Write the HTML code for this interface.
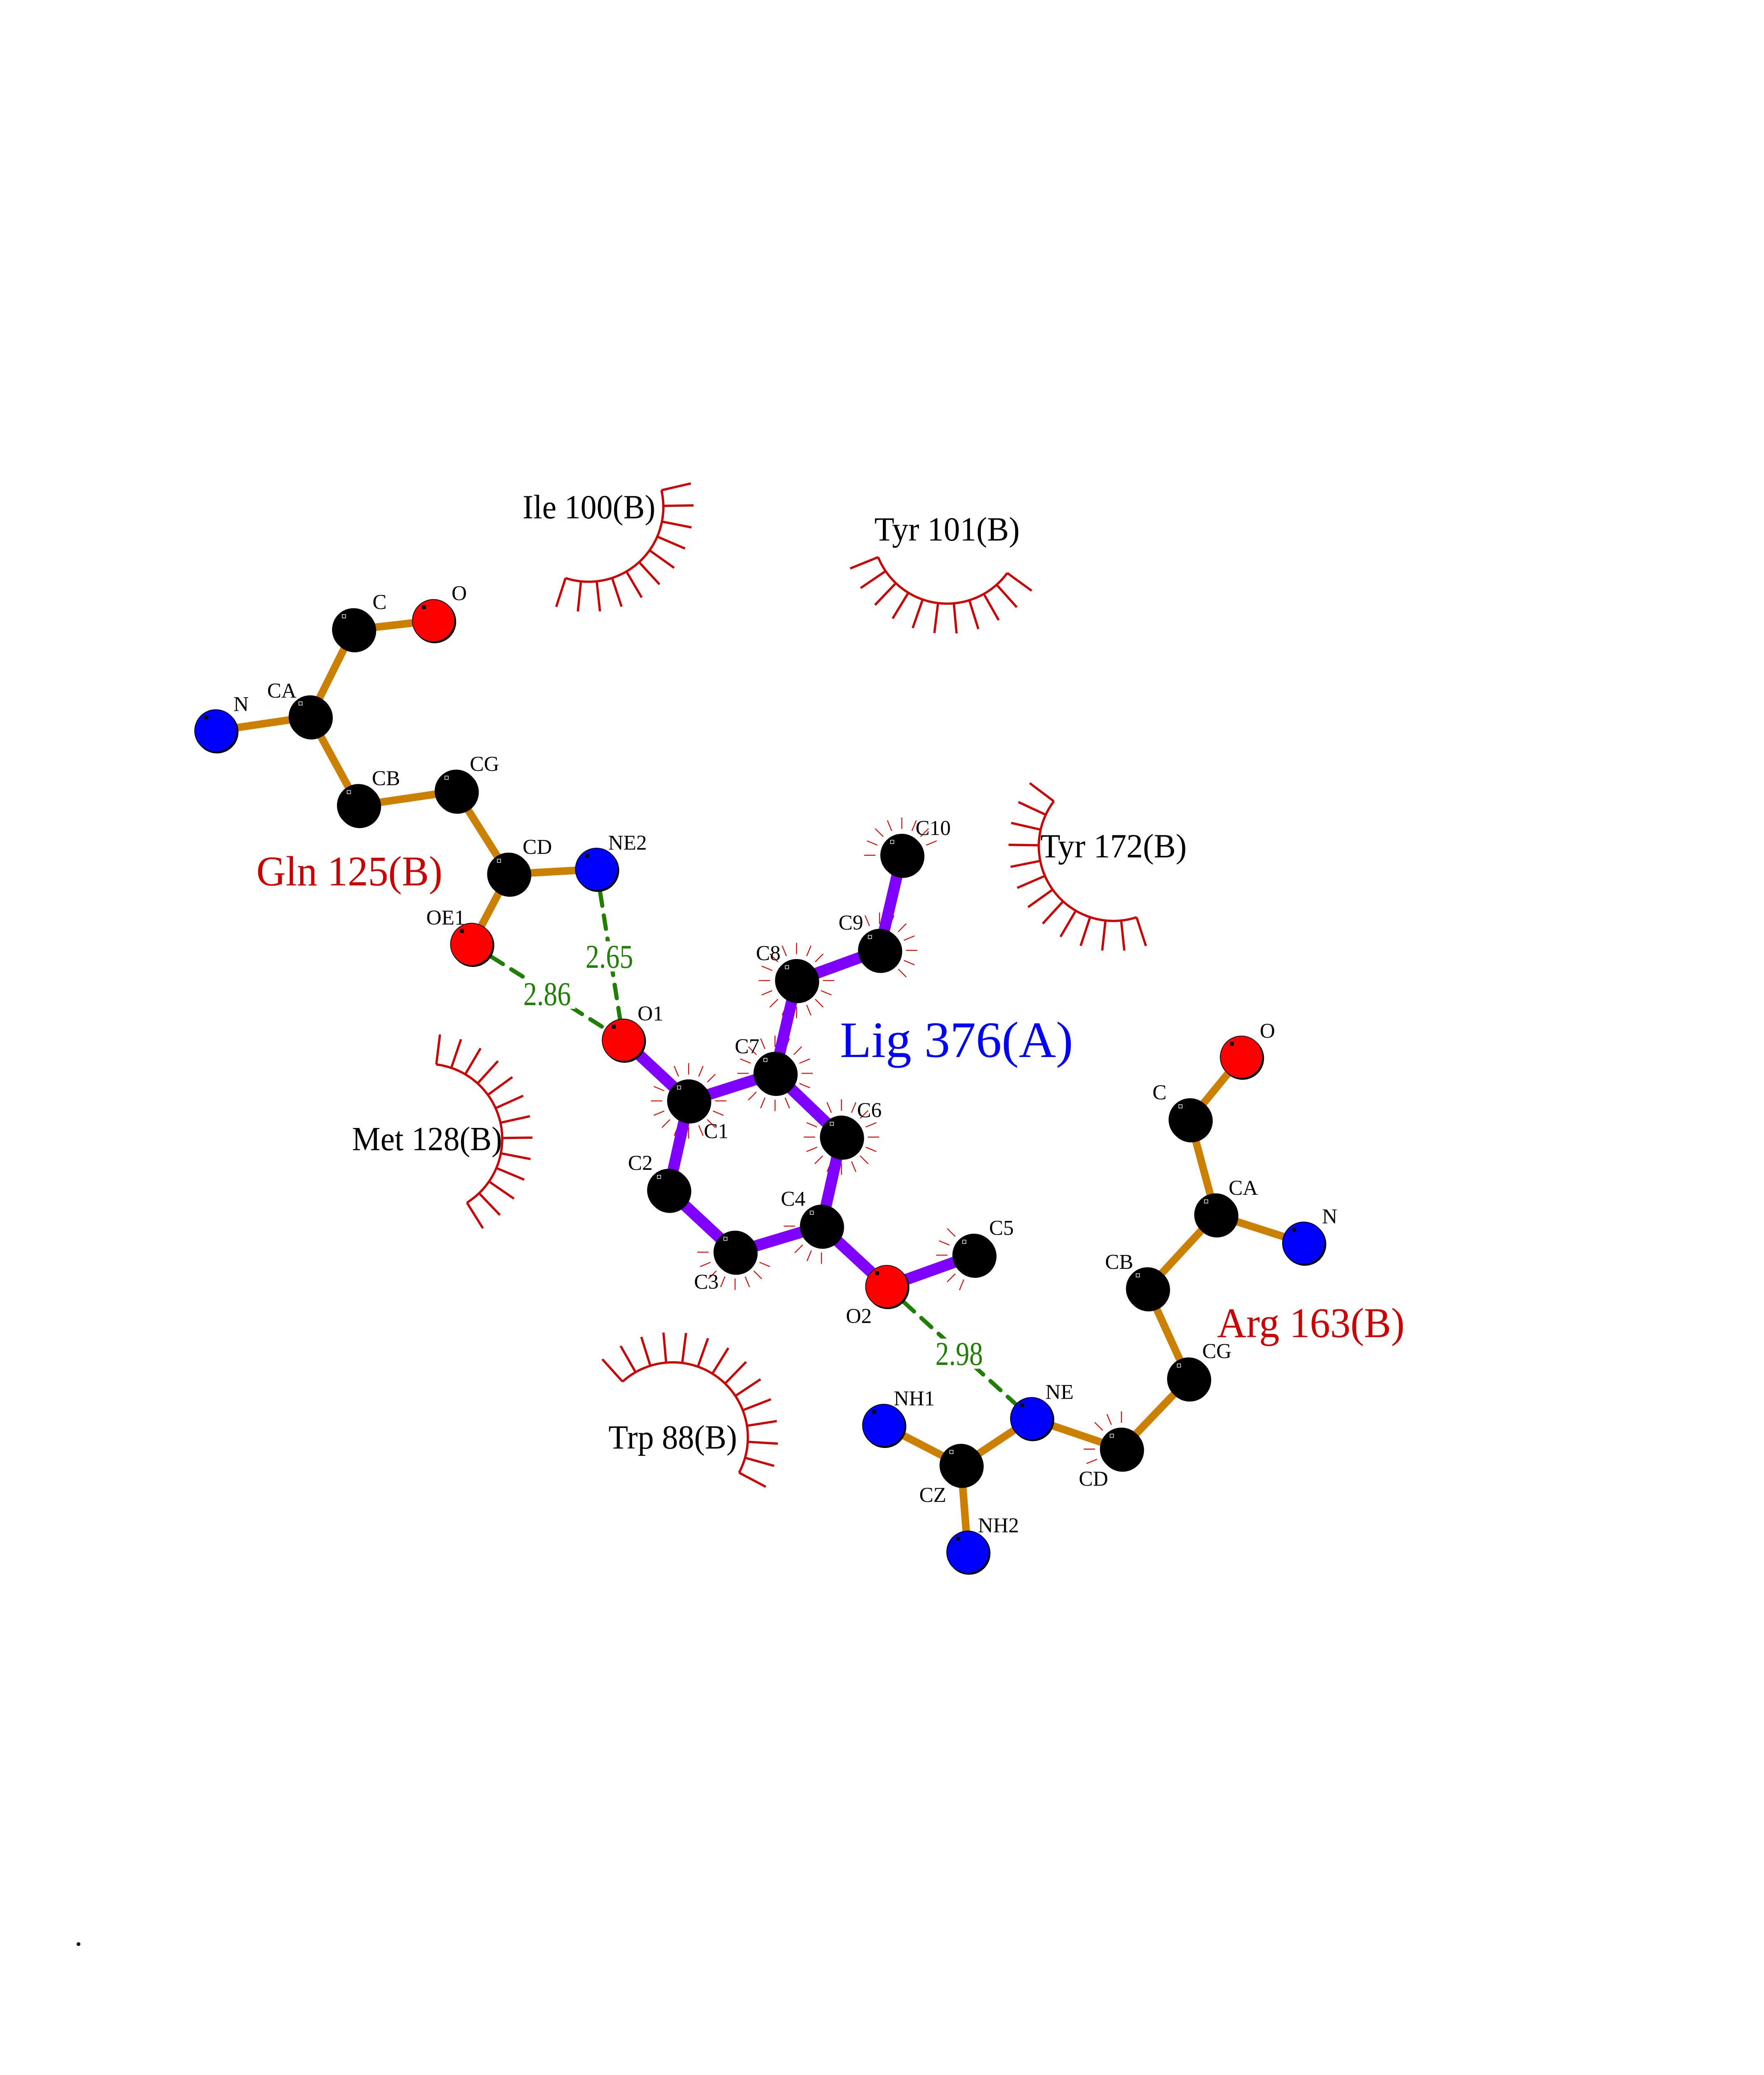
<!DOCTYPE html>
<html><head><meta charset="utf-8"><style>
html,body{margin:0;padding:0;background:#fff;width:100%;height:100%;overflow:hidden}
svg{position:fixed;left:0;top:0;display:block;height:100vh;width:calc(100vh * 0.7727273)}
</style></head>
<body>
<svg id="s" xmlns="http://www.w3.org/2000/svg" viewBox="0 0 4250 5500" preserveAspectRatio="none" font-family="Liberation Serif, serif">
<rect width="4250" height="5500" fill="#fff"/>
<g id="g"></g>
<circle cx="208" cy="5153" r="5" fill="#000"/>
</svg>
<script>
const NS="http://www.w3.org/2000/svg",g=document.getElementById('g');
function el(t,a,txt){const e=document.createElementNS(NS,t);for(const k in a)e.setAttribute(k,a[k]);if(txt)e.textContent=txt;g.appendChild(e);return e;}
const A={
 gN:[572,1937,'b'],gCA:[822,1900,'k'],gC:[937,1669,'k'],gO:[1149,1645,'r'],gCB:[950,2135,'k'],gCG:[1209,2097,'k'],gCD:[1348,2317,'k'],gNE2:[1581,2304,'b'],gOE1:[1250,2503,'r'],
 O1:[1652,2757,'r'],C1:[1825,2918,'k'],C2:[1772,3155,'k'],C3:[1948,3319,'k'],C4:[2177,3250,'k'],C6:[2230,3014,'k'],C7:[2054,2845,'k'],C8:[2111,2599,'k'],C9:[2331,2519,'k'],C10:[2390,2267,'k'],O2:[2350,3410,'r'],C5:[2581,3327,'k'],
 aO:[3290,2802,'r'],aC:[3154,2968,'k'],aCA:[3222,3220,'k'],aN:[3455,3295,'b'],aCB:[3041,3416,'k'],aCG:[3150,3655,'k'],aCD:[2972,3841,'k'],aNE:[2734,3760,'b'],aCZ:[2547,3884,'k'],aNH1:[2342,3778,'b'],aNH2:[2565,4114,'b']};
function arc(cx,cy,r,a0,a1,n){let d='';for(let i=0;i<=60;i++){const a=(a0+(a1-a0)*i/60)*Math.PI/180;d+=(i?'L':'M')+(cx+r*Math.cos(a)).toFixed(1)+','+(cy+r*Math.sin(a)).toFixed(1);}
 el('path',{d:d,fill:'none',stroke:'#cc0000',"stroke-width":6});
 for(let i=0;i<n;i++){const a=(a0+(a1-a0)*i/(n-1))*Math.PI/180;el('line',{x1:cx+r*Math.cos(a),y1:cy+r*Math.sin(a),x2:cx+(r+80)*Math.cos(a),y2:cy+(r+80)*Math.sin(a),stroke:'#cc0000',"stroke-width":6});}}
arc(1560,1344,198,-13,108,11);
arc(2510,1403,197,36,158,11);
arc(2951,2243,198,72,217,13);
arc(1132,3019,199,-83,58,13);
arc(1783,3810,199,228,388,14);
const SP={C1:[0,360],C7:[0,360],C8:[0,360],C6:[0,360],C9:[-130,60],C10:[-200,-20],C3:[10,200],C4:[80,200],C5:[100,230],aCD:[150,270]};
for(const k in SP){const [x,y]=A[k];const [s,e]=SP[k];
 for(let a=0;a<360;a+=22.5){if(!(s<=0&&e>=360)){let ok=false;for(const off of [-360,0,360]){if(a+off>=s&&a+off<=e)ok=true;}if(!ok)continue;}
 const r=a*Math.PI/180;el('line',{x1:x+70*Math.cos(r),y1:y+70*Math.sin(r),x2:x+100*Math.cos(r),y2:y+100*Math.sin(r),stroke:'#e00000',"stroke-width":2.5});}}
function b(p,q,c,w){el('line',{x1:A[p][0],y1:A[p][1],x2:A[q][0],y2:A[q][1],stroke:c,"stroke-width":w});}
const OR='#cc8000',PU='#8000ff';
[['gN','gCA'],['gCA','gC'],['gC','gO'],['gCA','gCB'],['gCB','gCG'],['gCG','gCD'],['gCD','gNE2'],['gCD','gOE1'],
 ['aO','aC'],['aC','aCA'],['aCA','aN'],['aCA','aCB'],['aCB','aCG'],['aCG','aCD'],['aCD','aNE'],['aNE','aCZ'],['aCZ','aNH1'],['aCZ','aNH2']].forEach(x=>b(x[0],x[1],OR,20));
[['O1','C1'],['C1','C2'],['C2','C3'],['C3','C4'],['C4','C6'],['C6','C7'],['C7','C1'],['C7','C8'],['C8','C9'],['C9','C10'],['C4','O2'],['O2','C5']].forEach(x=>b(x[0],x[1],PU,30));
[['gOE1','O1'],['gNE2','O1'],['O2','aNE']].forEach(x=>el('line',{x1:A[x[0]][0],y1:A[x[0]][1],x2:A[x[1]][0],y2:A[x[1]][1],stroke:'#1f7f00',"stroke-width":11,"stroke-dasharray":"36,26","stroke-linecap":"round"}));
const col={k:'#000',r:'#ff0000',b:'#0000ff'};
for(const k in A){const [x,y,c]=A[k];el('circle',{cx:x+3,cy:y+3,r:57,fill:'#000'});el('circle',{cx:x,cy:y,r:56,fill:col[c],stroke:'#000',"stroke-width":2});el('rect',{x:x-30,y:y-40,width:9,height:9,fill:'#000',stroke:c=='k'?'#fff':'#000',"stroke-width":1.5});}
[[1615,2535],[1450,2634],[2542,3588]].forEach(p=>el('rect',{x:p[0]-75,y:p[1]-40,width:150,height:80,fill:'#fff'}));
const L=[['N',639,1865],['CA',747,1829],['C',1006,1594],['O',1217,1571],['CB',1023,2061],['CG',1284,2023],['CD',1424,2243],['NE2',1663,2232],['OE1',1181,2431],
['O1',1724,2685],['C1',1898,2997],['C2',1697,3081],['C3',1872,3396],['C4',2102,3176],['C6',2304,2941],['C7',1980,2772],['C8',2036,2525],['C9',2255,2444],['C10',2473,2193],['O2',2276,3487],['C5',2654,3253],
['O',3359,2731],['C',3073,2894],['CA',3295,3147],['N',3524,3223],['CB',2966,3343],['CG',3225,3580],['CD',2898,3918],['NE',2808,3688],['CZ',2472,3961],['NH1',2423,3705],['NH2',2646,4042]];
L.forEach(l=>el('text',{x:l[1],y:l[2]+20,"font-size":56,"text-anchor":"middle"},l[0]));
const R=[['Ile 100(B)',1561,1344,'#000',90,352],['Tyr 101(B)',2510,1403,'#000',90,385],['Tyr 172(B)',2951,2243,'#000',90,388],['Met 128(B)',1132,3019,'#000',90,398],['Trp 88(B)',1783,3810,'#000',90,341],
['Gln 125(B)',926,2310,'#cc0000',112,493],['Arg 163(B)',3474,3507,'#cc0000',112,497],['Lig 376(A)',2535,2757,'#0000ff',135,618]];
R.forEach(r=>el('text',{x:r[1]-r[5]/2,y:r[2]+r[4]*0.33,"font-size":r[4],fill:r[3],textLength:r[5],lengthAdjust:'spacingAndGlyphs'},r[0]));
[['2.86',1450,2634],['2.65',1615,2535],['2.98',2542,3588]].forEach(t=>el('text',{x:t[1]-63,y:t[2]+30,"font-size":88,fill:'#1f7f00',textLength:126,lengthAdjust:'spacingAndGlyphs'},t[0]));
</script>
</body></html>
